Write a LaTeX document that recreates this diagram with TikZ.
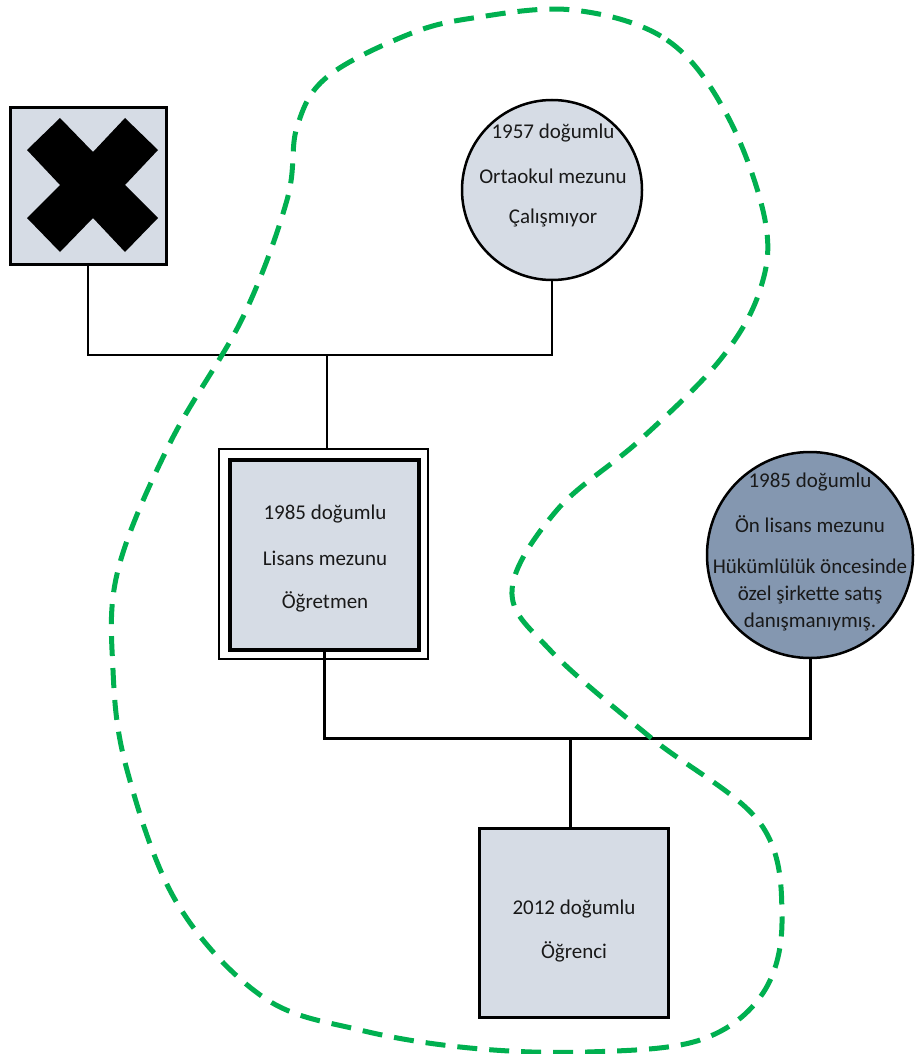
\documentclass[tikz,border=0pt]{standalone}
\usepackage{fontspec}
\setmainfont{Carlito}
\begin{document}
\begin{tikzpicture}[x=1pt,y=-1pt,
  lightfill/.style={fill=boxfill},
  person/.style={draw=black,line width=3pt,lightfill,minimum width=189pt,minimum height=189pt,inner sep=0pt},
  circ/.style={circle,draw=black,line width=2.5pt,inner sep=0pt},
  txt/.style={font=\fontsize{21}{25}\selectfont,inner sep=0pt,text=black!90},
  thinline/.style={line width=1.4pt},
  thickline/.style={line width=3pt},
  hull/.style={draw=hullgreen,line width=5pt,dash pattern=on 20pt off 12pt}
]
\definecolor{boxfill}{HTML}{D6DCE5}
\definecolor{darkfill}{HTML}{8497B0}
\definecolor{hullgreen}{HTML}{00B050}
\useasboundingbox (0,0) rectangle (914,1054);
\fill[white] (0,0) rectangle (914,1054);

% deceased father
\node[person,minimum width=156pt,minimum height=157pt] (xbox) at (88,186) {};
\fill[black] (27,150) -- (60,118) -- (93,152) -- (125,118) -- (158,150) -- (125,185)
  -- (158,218) -- (125,252) -- (93,218) -- (60,252) -- (27,218) -- (60,185) -- cycle;

% mother
\node[circ,lightfill,minimum size=180pt] (mom) at (552,190) {};
\node[txt] (mom1) at (553,133) {1957 doğumlu};
\node[txt] (mom2) at (553,176) {Ortaokul mezunu};
\node[txt] (mom3) at (553,218) {Çalışmıyor};

% client (double box)
\node[draw=black,line width=2pt,fill=white,minimum width=209pt,minimum height=210pt,inner sep=0pt] (obox) at (323.5,554) {};
\node[person,line width=3.5pt,minimum width=189pt,minimum height=190pt] (ibox) at (324.5,555) {};
\node[txt] (c1) at (325,514) {1985 doğumlu};
\node[txt] (c2) at (325,558) {Lisans mezunu};
\node[txt] (c3) at (325,602) {Öğretmen};

% spouse
\node[circ,fill=darkfill,minimum size=206pt] (sp) at (810,555) {};
\node[txt] (s1) at (810,482) {1985 doğumlu};
\node[txt] (s2) at (810,524) {Ön lisans mezunu};
\node[txt] (s3) at (810,566) {Hükümlülük öncesinde};
\node[txt] (s4) at (810,595) {özel şirkette satış};
\node[txt] (s5) at (810,622) {danışmanıymış.};

% child
\node[person] (kid) at (573.5,922.5) {};
\node[txt] (k1) at (574,909) {2012 doğumlu};
\node[txt] (k2) at (574,952) {Öğrenci};

% connectors
\coordinate (j1) at (327,355);
\draw[thinline] (xbox.south) |- (j1) -| (mom.south);
\draw[thinline] (j1) -- (j1 |- obox.north);
\coordinate (j2) at (570,738);
\draw[thickline] (ibox.south) |- (j2) -| (sp.south);
\draw[thickline] (j2) -- (j2 |- kid.north);

% household boundary
\draw[hull] plot[smooth cycle,tension=0.6] coordinates {
 (573,10) (667,40) (727,115) (765,220) (760,290) (720,360) (640,440) (557,510)
 (512,590) (550,650) (650,737) (760,823) (782,917) (763,993) (700,1040) (587,1052)
 (470,1048) (360,1030) (263,997) (177,903) (127,770) (113,670) (118,570) (170,443)
 (243,317) (287,200) (297,127) (327,77) (407,35) (473,18)};
\end{tikzpicture}
\end{document}
